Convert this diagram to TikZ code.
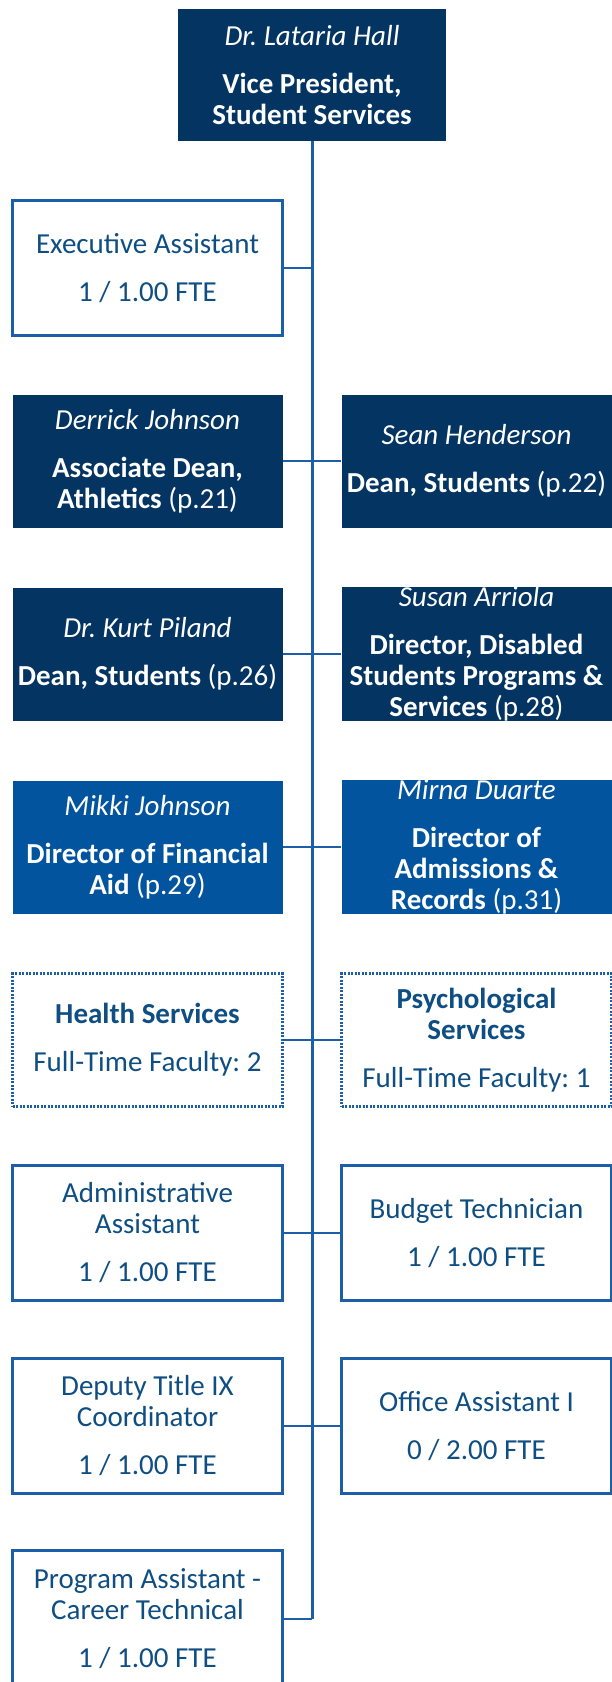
\documentclass[tikz,border=0pt]{standalone}
\usepackage{fontspec}
\setmainfont{Carlito}
\usepackage{xcolor}
\definecolor{DeanNavy}{HTML}{033462}
\definecolor{DirBlue}{HTML}{02549F}
\definecolor{TrunkBlue}{HTML}{1D5EA8}
\definecolor{StaffText}{HTML}{0F4E82}

\newcommand{\who}[1]{{\itshape #1}\\[17pt]}
\newcommand{\fte}[1]{\\[17pt]#1}
\frenchspacing

\begin{document}
\begin{tikzpicture}[x=1pt,y=-1pt,
    card/.style={rectangle,minimum width=270pt,minimum height=133pt,inner sep=0pt,
      align=center,font=\fontsize{29}{31}\selectfont},
    lead/.style={card,fill=DeanNavy,text=white},
    dir/.style={card,fill=DirBlue,text=white},
    staff/.style={card,draw=TrunkBlue,line width=2.4pt,text=StaffText,minimum height=135pt},
    unit/.style={card,draw=TrunkBlue,line width=2.2pt,dash pattern=on 2pt off 1.5pt,text=StaffText},
    trunk/.style={TrunkBlue,line width=3pt},
    twig/.style={TrunkBlue,line width=2pt}]
    \useasboundingbox (0,0) rectangle (612,1682);

    \node[lead,minimum width=268pt,minimum height=132pt] (vp) at (312,75)
      {\who{Dr. Lataria Hall}\textbf{Vice President,}\\\textbf{Student Services}};

    \node[staff] (exec) at (147.5,268) {Executive Assistant\fte{1 / 1.00 FTE}};

    \node[lead] (djohnson) at (147.5,461)
      {\who{Derrick Johnson}\textbf{Associate Dean,}\\\textbf{Athletics} (p.21)};
    \node[lead] (henderson) at (476.5,461)
      {\who{Sean Henderson}\textbf{Dean, Students} (p.22)};

    \node[lead] (piland) at (147.5,654)
      {\who{Dr. Kurt Piland}\textbf{Dean, Students} (p.26)};
    \node[lead] (arriola) at (476.5,654)
      {\who{Susan Arriola}\textbf{Director, Disabled}\\\textbf{Students Programs \&}\\\textbf{Services} (p.28)};

    \node[dir] (mjohnson) at (147.5,847)
      {\who{Mikki Johnson}\textbf{Director of Financial}\\\textbf{Aid} (p.29)};
    \node[dir] (duarte) at (476.5,847)
      {\who{Mirna Duarte}\textbf{Director of}\\\textbf{Admissions \&}\\\textbf{Records} (p.31)};

    \node[unit] (health) at (147.5,1040) {\textbf{Health Services}\fte{Full-Time Faculty: 2}};
    \node[unit] (psych) at (476.5,1040)
      {\textbf{Psychological}\\\textbf{Services}\fte{Full-Time Faculty: 1}};

    \node[staff] (adminasst) at (147.5,1233) {Administrative\\Assistant\fte{1 / 1.00 FTE}};
    \node[staff] (budget) at (476.5,1233) {Budget Technician\fte{1 / 1.00 FTE}};

    \node[staff] (titleix) at (147.5,1426) {Deputy Title IX\\Coordinator\fte{1 / 1.00 FTE}};
    \node[staff] (officeasst) at (476.5,1426) {Office Assistant I\fte{0 / 2.00 FTE}};

    \node[staff,minimum height=137pt] (progasst) at (147.5,1619)
      {Program Assistant -\\Career Technical\fte{1 / 1.00 FTE}};

    % reporting lines
    \coordinate (foot) at (312,1619);
    \draw[trunk] (vp.south) -- (foot);
    \draw[twig] (exec.east) -- (exec.east -| vp.south);
    \foreach \l/\r in {djohnson/henderson,piland/arriola,mjohnson/duarte,
                       health/psych,adminasst/budget,titleix/officeasst}
      \draw[twig] (\l.east) -- (\r.west);
    \draw[twig] (progasst.east) -- (foot);
\end{tikzpicture}
\end{document}
